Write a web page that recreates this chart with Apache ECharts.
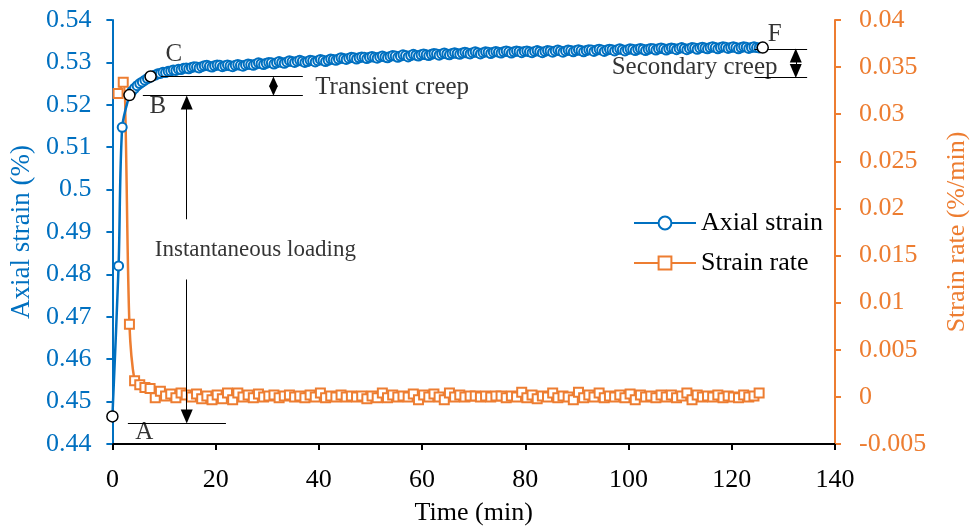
<!DOCTYPE html>
<html><head><meta charset="utf-8">
<script src="https://cdn.jsdelivr.net/npm/echarts@6/dist/echarts.min.js"></script>
<style>html,body{margin:0;padding:0;background:#fff;overflow:hidden}#c{width:978px;height:531px}</style>
</head><body><div id="c"></div>
<script>
// ---- data ----
// axial strain: times (min) and values (%)
const strainTimes = [0,1.2,1.9,
 3.3,3.8,4.3,4.8,5.3,5.8,6.3,6.8,7.3,7.8,
 8.3,8.8,9.3,9.8,10.3,10.8,11.3,11.8,12.3,12.8,
 13.3,13.8,14.3,14.8,15.3,15.8,16.3,16.8,17.3,17.8,
 18.3,18.8,19.3,19.8,20.3,20.8,21.3,21.8,22.3,22.8,
 23.3,23.8,24.3,24.8,25.3,25.8,26.3,26.8,27.3,27.8,
 28.3,28.8,29.3,29.8,30.3,30.8,31.3,31.8,32.3,32.8,
 33.3,33.8,34.3,34.8,35.3,35.8,36.3,36.8,37.3,37.8,
 38.3,38.8,39.3,39.8,40.3,40.8,41.3,41.8,42.3,42.8,
 43.3,43.8,44.3,44.8,45.3,45.8,46.3,46.8,47.3,47.8,
 48.3,48.8,49.3,49.8,50.3,50.8,51.3,51.8,52.3,52.8,
 53.3,53.8,54.3,54.8,55.3,55.8,56.3,56.8,57.3,57.8,
 58.3,58.8,59.3,59.8,60.3,60.8,61.3,61.8,62.3,62.8,
 63.3,63.8,64.3,64.8,65.3,65.8,66.3,66.8,67.3,67.8,
 68.3,68.8,69.3,69.8,70.3,70.8,71.3,71.8,72.3,72.8,
 73.3,73.8,74.3,74.8,75.3,75.8,76.3,76.8,77.3,77.8,
 78.3,78.8,79.3,79.8,80.3,80.8,81.3,81.8,82.3,82.8,
 83.3,83.8,84.3,84.8,85.3,85.8,86.3,86.8,87.3,87.8,
 88.3,88.8,89.3,89.8,90.3,90.8,91.3,91.8,92.3,92.8,
 93.3,93.8,94.3,94.8,95.3,95.8,96.3,96.8,97.3,97.8,
 98.3,98.8,99.3,99.8,100.3,100.8,101.3,101.8,102.3,102.8,
 103.3,103.8,104.3,104.8,105.3,105.8,106.3,106.8,107.3,107.8,
 108.3,108.8,109.3,109.8,110.3,110.8,111.3,111.8,112.3,112.8,
 113.3,113.8,114.3,114.8,115.3,115.8,116.3,116.8,117.3,117.8,
 118.3,118.8,119.3,119.8,120.3,120.8,121.3,121.8,122.3,122.8,
 123.3,123.8,124.3,124.8,125.3,125.8];
const axialStrain = [0.4465,0.4820,0.5147,
 0.5223,0.5232,0.5239,0.5245,0.5250,0.5254,0.5258,0.5262,0.5265,0.5268,
 0.5270,0.5273,0.5274,0.5277,0.5276,0.5279,0.5280,0.5282,0.5281,0.5284,
 0.5283,0.5286,0.5287,0.5285,0.5288,0.5290,0.5289,0.5287,0.5290,0.5292,
 0.5293,0.5291,0.5289,0.5292,0.5294,0.5293,0.5290,0.5292,0.5294,0.5292,
 0.5290,0.5293,0.5295,0.5293,0.5291,0.5294,0.5296,0.5295,0.5293,0.5296,
 0.5299,0.5297,0.5295,0.5298,0.5300,0.5299,0.5296,0.5299,0.5302,0.5300,
 0.5298,0.5301,0.5304,0.5302,0.5300,0.5303,0.5305,0.5303,0.5300,0.5302,
 0.5305,0.5304,0.5301,0.5304,0.5307,0.5305,0.5302,0.5305,0.5308,0.5307,
 0.5305,0.5308,0.5311,0.5309,0.5307,0.5310,0.5312,0.5311,0.5308,0.5311,
 0.5313,0.5312,0.5309,0.5312,0.5314,0.5312,0.5310,0.5313,0.5315,0.5313,
 0.5311,0.5314,0.5316,0.5315,0.5312,0.5315,0.5318,0.5316,0.5313,0.5316,
 0.5319,0.5317,0.5315,0.5318,0.5320,0.5318,0.5316,0.5319,0.5321,0.5320,
 0.5317,0.5320,0.5322,0.5320,0.5318,0.5321,0.5323,0.5321,0.5319,0.5322,
 0.5324,0.5322,0.5320,0.5323,0.5325,0.5323,0.5320,0.5323,0.5325,0.5324,
 0.5321,0.5324,0.5326,0.5324,0.5322,0.5325,0.5327,0.5325,0.5322,0.5325,
 0.5327,0.5326,0.5323,0.5326,0.5327,0.5325,0.5323,0.5326,0.5328,0.5326,
 0.5323,0.5326,0.5328,0.5327,0.5324,0.5327,0.5329,0.5327,0.5324,0.5327,
 0.5329,0.5328,0.5325,0.5328,0.5330,0.5328,0.5325,0.5328,0.5330,0.5329,
 0.5326,0.5329,0.5331,0.5329,0.5326,0.5329,0.5331,0.5330,0.5327,0.5330,
 0.5332,0.5330,0.5327,0.5330,0.5332,0.5331,0.5328,0.5331,0.5333,0.5331,
 0.5328,0.5331,0.5333,0.5332,0.5329,0.5332,0.5334,0.5332,0.5329,0.5332,
 0.5334,0.5333,0.5330,0.5333,0.5335,0.5333,0.5330,0.5333,0.5335,0.5334,
 0.5331,0.5334,0.5336,0.5334,0.5332,0.5335,0.5337,0.5335,0.5332,0.5335,
 0.5337,0.5336,0.5333,0.5335,0.5337,0.5335,0.5332,0.5335,0.5337,0.5336,
 0.5333,0.5335,0.5337,0.5335,0.5334,0.5335];

// strain rate: times (min) and values (%/min)
const rateTimes = [1.1,2.1,3.3,4.3,5.3,6.3,7.3,8.3,9.3,10.3,11.3,12.3,13.3,14.3,15.3,16.3,17.3,18.3,19.3,20.3,21.3,22.3,23.3,24.3,25.3,26.3,27.3,28.3,29.3,30.3,31.3,32.3,33.3,34.3,35.3,36.3,37.3,38.3,39.3,40.3,41.3,42.3,43.3,44.3,45.3,46.3,47.3,48.3,49.3,50.3,51.3,52.3,53.3,54.3,55.3,56.3,57.3,58.3,59.3,60.3,61.3,62.3,63.3,64.3,65.3,66.3,67.3,68.3,69.3,70.3,71.3,72.3,73.3,74.3,75.3,76.3,77.3,78.3,79.3,80.3,81.3,82.3,83.3,84.3,85.3,86.3,87.3,88.3,89.3,90.3,91.3,92.3,93.3,94.3,95.3,96.3,97.3,98.3,99.3,100.3,101.3,102.3,103.3,104.3,105.3,106.3,107.3,108.3,109.3,110.3,111.3,112.3,113.3,114.3,115.3,116.3,117.3,118.3,119.3,120.3,121.3,122.3,123.3,124.3,125.3];
const strainRate = [0.0322, 0.0334,
 0.0077,0.0017,0.0013,0.0010,0.0009,-0.0001,0.0006,0.0001,0.0003,-0.0001,
 0.0004,0.0002,0.0000,0.0003,-0.0002,0.0001,-0.0003,0.0002,-0.0002,0.0004,
 -0.0003,0.0004,0.0000,0.0002,-0.0001,0.0003,0.0000,0.0001,0.0002,-0.0001,
 0.0001,0.0002,0.0000,0.0001,-0.0001,0.0002,0.0000,0.0004,-0.0001,0.0001,
 0.0000,0.0002,0.0000,0.0001,0.0000,0.0001,-0.0002,0.0001,-0.0001,0.0004,
 -0.0001,0.0002,0.0000,0.0001,0.0000,0.0003,-0.0003,0.0002,0.0000,0.0003,
 0.0000,-0.0003,0.0004,0.0000,0.0002,0.0000,0.0001,0.0001,0.0000,0.0001,
 0.0000,0.0001,0.0001,-0.0001,0.0001,0.0000,0.0005,-0.0001,0.0002,-0.0002,
 0.0001,0.0000,0.0004,-0.0001,0.0001,0.0000,-0.0003,0.0005,-0.0001,0.0002,
 0.0000,0.0004,-0.0001,0.0001,0.0000,0.0002,-0.0001,0.0003,-0.0003,0.0002,
 0.0000,0.0001,-0.0001,0.0002,0.0000,0.0002,-0.0001,0.0001,0.0004,-0.0003,
 0.0002,0.0000,0.0001,0.0000,0.0002,-0.0001,0.0001,0.0000,-0.0001,0.0002,
 0.0000,0.0001,0.0004];

// annotated points A, B, C, F (time, strain)
const keyTimes = [0, 3.3, 7.4, 126.0];
const keyStrain = [0.4465, 0.5223, 0.5267, 0.5335];

// annotation texts (time, strain)
const noteText = ['A', 'B', 'C', 'F', 'Transient creep', 'Secondary creep', 'Instantaneous loading'];
const noteTime = [6.2, 8.8, 11.9, 128.3, 54.2, 112.8, 27.7];
const noteStrain = [0.44272, 0.5197, 0.53186, 0.53651, 0.52419, 0.52877, 0.48581];
const noteSize = [25, 25, 25, 25, 25, 25, 23];

// axis ranges / tick steps
const xTicks = {min: 0, max: 140, step: 20};
const yLeftTicks = {min: 0.44, max: 0.54, step: 0.01};
const yRightTicks = {min: -0.005, max: 0.04, step: 0.005};

// ---- build ----
const strainData = strainTimes.map((t, i) => [t, axialStrain[i]]);
const rateData = rateTimes.map((t, i) => [t, strainRate[i]]);
const keyData = keyTimes.map((t, i) => [t, keyStrain[i]]);
const noteData = noteText.map((s, i) => ({value: [noteTime[i], noteStrain[i]], label: {formatter: s, fontSize: noteSize[i]}}));

const FONT = 'Liberation Serif';
const BLUE = '#0070C0';
const ORANGE = '#ED7D31';
const FS = 26;

function seg(p, q, s1, s2, size) {
  const a = {coord: p, symbol: s1 || 'none'};
  const b = {coord: q, symbol: s2 || 'none'};
  if (size) { a.symbolSize = size; b.symbolSize = size; }
  return [a, b];
}
const yA = 0.44488, yB = 0.52216, yC = 0.52667, yFt = 0.53302, yFb = 0.52658;
const BIG = [12, 14], SMALL = [9, 10];
const guideLines = [
  seg([3.0, yA], [22.0, yA]),
  seg([5.9, yB], [36.9, yB]),
  seg([9.4, yC], [36.9, yC]),
  seg([14.4, 0.52053], [14.4, 0.4930], 'triangle', 'none', BIG),
  seg([14.4, 0.4788], [14.4, 0.44651], 'none', 'triangle', BIG),
  seg([31.2, 0.52333], [31.2, 0.52551], 'triangle', 'triangle', SMALL),
  seg([124.4, yFt], [134.6, yFt]),
  seg([124.4, yFb], [134.6, yFb]),
  seg([132.4, 0.53163], [132.4, 0.52798], 'triangle', 'triangle', BIG)
];

const chart = echarts.init(document.getElementById('c'), null, {renderer: 'canvas', width: 978, height: 531});
chart.setOption({
  animation: false,
  textStyle: {fontFamily: FONT},
  grid: {left: 111, right: 140, top: 20, bottom: 81, containLabel: false},
  legend: {
    data: ['Axial strain', 'Strain rate'],
    orient: 'vertical', left: 628, top: 205,
    itemWidth: 62, itemHeight: 16, itemGap: 14,
    textStyle: {fontFamily: FONT, fontSize: FS, color: '#000'}
  },
  xAxis: {
    type: 'value', min: xTicks.min, max: xTicks.max, interval: xTicks.step,
    name: 'Time (min)', nameLocation: 'middle', nameGap: 56,
    nameTextStyle: {fontFamily: FONT, fontSize: FS, color: '#000'},
    axisLine: {onZero: false, lineStyle: {color: '#000', width: 2}},
    axisTick: {show: true, length: 6, lineStyle: {color: '#000', width: 2}},
    axisLabel: {fontFamily: FONT, fontSize: FS, color: '#000', margin: 23},
    splitLine: {show: false}
  },
  yAxis: [{
    type: 'value', min: yLeftTicks.min, max: yLeftTicks.max, interval: yLeftTicks.step,
    name: 'Axial strain (%)', nameLocation: 'middle', nameGap: 71,
    nameTextStyle: {fontFamily: FONT, fontSize: 27, color: BLUE},
    axisLine: {show: true, onZero: false, lineStyle: {color: BLUE, width: 2}},
    axisTick: {show: true, length: 6, lineStyle: {color: BLUE, width: 2}},
    axisLabel: {fontFamily: FONT, fontSize: FS, color: BLUE, margin: 21,
      formatter: v => String(parseFloat(v.toFixed(4)))},
    splitLine: {show: false}
  }, {
    type: 'value', min: yRightTicks.min, max: yRightTicks.max, interval: yRightTicks.step,
    position: 'right',
    name: 'Strain rate (%/min)', nameLocation: 'middle', nameGap: 109,
    nameTextStyle: {fontFamily: FONT, fontSize: FS, color: ORANGE},
    axisLine: {show: true, onZero: false, lineStyle: {color: ORANGE, width: 2}},
    axisTick: {show: true, length: 6, lineStyle: {color: ORANGE, width: 2}},
    axisLabel: {fontFamily: FONT, fontSize: FS, color: ORANGE, margin: 24,
      formatter: v => String(parseFloat(v.toFixed(4)))},
    splitLine: {show: false}
  }],
  series: [{
    name: 'Axial strain', type: 'line', yAxisIndex: 0, data: strainData,
    smooth: 0.3, showAllSymbol: true, symbol: 'emptyCircle', symbolSize: 9,
    lineStyle: {color: BLUE, width: 2.5},
    itemStyle: {color: BLUE, borderColor: BLUE, borderWidth: 1.5},
    z: 3
  }, {
    name: 'Strain rate', type: 'line', yAxisIndex: 1, data: rateData,
    smooth: 0.3, showAllSymbol: true, symbol: 'emptyRect', symbolSize: 9,
    lineStyle: {color: ORANGE, width: 2.5},
    itemStyle: {color: ORANGE, borderColor: ORANGE, borderWidth: 1.5},
    z: 2
  }, {
    name: 'key', type: 'scatter', yAxisIndex: 0, data: keyData,
    symbol: 'circle', symbolSize: 11,
    itemStyle: {color: '#fff', borderColor: '#000', borderWidth: 1.5, opacity: 1},
    z: 5,
    markLine: {
      silent: true, symbol: ['none', 'none'], symbolSize: BIG, precision: 6,
      label: {show: false},
      lineStyle: {color: '#000', width: 1, type: 'solid'},
      emphasis: {disabled: true},
      data: guideLines
    }
  }, {
    name: 'notes', type: 'scatter', yAxisIndex: 0, data: noteData,
    symbol: 'circle', symbolSize: 1, itemStyle: {color: 'rgba(0,0,0,0)'},
    label: {show: true, position: 'inside', fontFamily: FONT, fontSize: 25, color: '#000'},
    z: 6, silent: true
  }]
});
</script>
</body></html>
